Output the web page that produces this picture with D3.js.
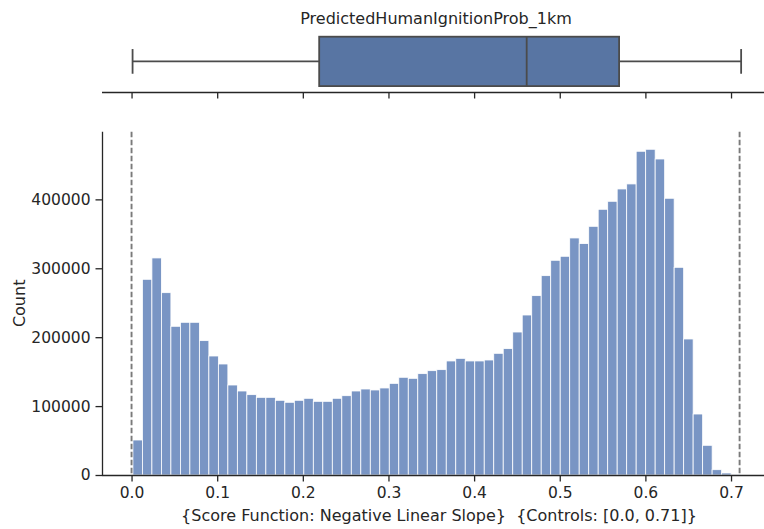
<!DOCTYPE html>
<html>
<head>
<meta charset="utf-8">
<script src="https://cdn.jsdelivr.net/npm/d3@7"></script>
<style>
  html, body { margin: 0; padding: 0; background: #fff; }
  svg { display: block; }
  text { font-family: "DejaVu Sans", sans-serif; fill: #262626; }
</style>
</head>
<body>
<svg id="chart" width="764" height="529"></svg>
<script>
// ---- data ----
const title = "PredictedHumanIgnitionProb_1km";
const xLabel = "{Score Function: Negative Linear Slope}  {Controls: [0.0, 0.71]}";
const yLabel = "Count";
const binMin = 0.0016;
const binMax = 0.7112;
const counts = [50800, 284000, 315000, 264600, 215800, 221600, 221600, 195000, 172700, 161100,
  130600, 121900, 116600, 112700, 112700, 108400, 105500, 108400, 111300, 106900,
  106900, 111300, 115100, 121900, 124800, 123400, 126300, 133000, 141800, 140300,
  147100, 151400, 152900, 165500, 169300, 165500, 165500, 166900, 176600, 183400,
  207500, 232200, 260300, 289300, 311600, 317400, 344000, 335800, 360900, 385600,
  397200, 415100, 422400, 469800, 472700, 458600, 401600, 301400, 197400, 88500,
  43100, 7700, 2900, 400];
// box plot summary: [whisker low, Q1, median, Q3, whisker high]
const boxStats = [0.0012, 0.2191, 0.4614, 0.5693, 0.7118];
const controls = [0.0, 0.71];
const xTicks = [0.0, 0.1, 0.2, 0.3, 0.4, 0.5, 0.6, 0.7];
const yTicks = [0, 100000, 200000, 300000, 400000];

// ---- layout ----
const svg = d3.select("#chart");
const left = 102, right = 764;
const histTop = 131.7, histBottom = 475;
const boxAxisY = 92, boxCenter = 61.4, boxHalf = 24.7;

const x = d3.scaleLinear().domain([-0.0345, 0.7385]).range([left, right]);
const y = d3.scaleLinear().domain([0, 498200]).range([histBottom, histTop]);

const barColor = "rgb(121,149,196)";
const boxFill = "#5875a3";
const lineGray = "#4b4b4b";
const ink = "#262626";
const tickFont = "15.5px", labelFont = "16px";

// ---- histogram bars ----
const bw = (binMax - binMin) / counts.length;
svg.append("g").selectAll("rect").data(counts).join("rect")
  .attr("x", (d, i) => x(binMin + i * bw))
  .attr("width", (d, i) => x(binMin + (i + 1) * bw) - x(binMin + i * bw))
  .attr("y", d => y(d))
  .attr("height", d => y(0) - y(d))
  .attr("fill", barColor)
  .attr("stroke", "#ffffff")
  .attr("stroke-width", 0.8);

// ---- dashed control lines ----
svg.append("g").selectAll("line").data(controls).join("line")
  .attr("x1", d => x(d)).attr("x2", d => x(d))
  .attr("y1", histTop).attr("y2", histBottom)
  .attr("stroke", "#7a7a7a").attr("stroke-width", 1.9)
  .attr("stroke-dasharray", "5.5,2.5");

// ---- histogram axes ----
const xAxis = d3.axisBottom(x).tickValues(xTicks).tickFormat(d3.format(".1f")).tickSize(6.5).tickPadding(5);
const gx = svg.append("g").attr("transform", `translate(0,${histBottom})`).call(xAxis);
const yAxis = d3.axisLeft(y).tickValues(yTicks).tickFormat(d3.format("d")).tickSize(6.5).tickPadding(5);
const gy = svg.append("g").attr("transform", `translate(${left},0)`).call(yAxis);
[gx, gy].forEach(g => {
  g.select(".domain").attr("stroke", ink).attr("stroke-width", 1.3);
  g.selectAll(".tick line").attr("stroke", ink).attr("stroke-width", 1.3);
  g.selectAll(".tick text").attr("fill", ink).style("font-size", tickFont).style("font-family", "DejaVu Sans");
});
gx.select(".domain").attr("d", `M${left},0.5H${right}`);
gy.select(".domain").attr("d", `M0.5,${histBottom}V${histTop}`);

// ---- box plot ----
const bp = svg.append("g");
bp.append("line").attr("x1", x(boxStats[0])).attr("x2", x(boxStats[1]))
  .attr("y1", boxCenter).attr("y2", boxCenter).attr("stroke", lineGray).attr("stroke-width", 1.8);
bp.append("line").attr("x1", x(boxStats[3])).attr("x2", x(boxStats[4]))
  .attr("y1", boxCenter).attr("y2", boxCenter).attr("stroke", lineGray).attr("stroke-width", 1.8);
[boxStats[0], boxStats[4]].forEach(v => {
  bp.append("line").attr("x1", x(v)).attr("x2", x(v))
    .attr("y1", boxCenter - boxHalf / 2).attr("y2", boxCenter + boxHalf / 2)
    .attr("stroke", lineGray).attr("stroke-width", 1.8);
});
bp.append("rect").attr("x", x(boxStats[1])).attr("width", x(boxStats[3]) - x(boxStats[1]))
  .attr("y", boxCenter - boxHalf).attr("height", 2 * boxHalf)
  .attr("fill", boxFill).attr("stroke", lineGray).attr("stroke-width", 1.8);
bp.append("line").attr("x1", x(boxStats[2])).attr("x2", x(boxStats[2]))
  .attr("y1", boxCenter - boxHalf).attr("y2", boxCenter + boxHalf)
  .attr("stroke", lineGray).attr("stroke-width", 1.8);

// box axis (ticks, no labels)
const bAxis = d3.axisBottom(x).tickValues(xTicks).tickFormat("").tickSize(6.5);
const gb = svg.append("g").attr("transform", `translate(0,${boxAxisY})`).call(bAxis);
gb.select(".domain").attr("d", `M${left},0.5H${right}`).attr("stroke", ink).attr("stroke-width", 1.3);
gb.selectAll(".tick line").attr("stroke", ink).attr("stroke-width", 1.3);

// ---- texts ----
svg.append("text").attr("x", 436).attr("y", 24).attr("text-anchor", "middle")
  .style("font-size", labelFont).text(title);
svg.append("text").attr("x", 439).attr("y", 521).attr("text-anchor", "middle")
  .style("font-size", labelFont).style("white-space", "pre").attr("xml:space", "preserve").text(xLabel);
svg.append("text").attr("transform", `translate(25,${(histTop + histBottom) / 2}) rotate(-90)`)
  .attr("text-anchor", "middle").style("font-size", labelFont).text(yLabel);
</script>
</body>
</html>
